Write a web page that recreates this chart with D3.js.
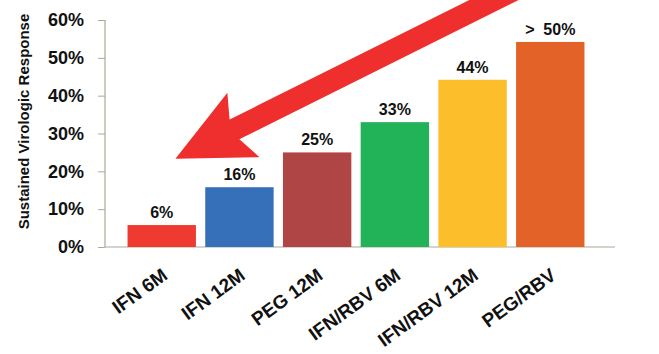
<!DOCTYPE html>
<html>
<head>
<meta charset="utf-8">
<script src="https://cdn.jsdelivr.net/npm/d3@7"></script>
<style>
  body { margin: 0; background: #fff; }
  text { font-family: "Liberation Sans", Arial, sans-serif; font-weight: bold; fill: #111; }
</style>
</head>
<body>
<div id="chart"></div>
<script>
// chart data
const categories = ["IFN 6M", "IFN 12M", "PEG 12M", "IFN/RBV 6M", "IFN/RBV 12M", "PEG/RBV"];
const values = [0.058, 0.158, 0.25, 0.33, 0.442, 0.542];
const valueLabels = ["6%", "16%", "25%", "33%", "44%", ">  50%"];
const colors = ["#ee3a2f", "#3570b9", "#b04545", "#22b257", "#fdbe2c", "#e36227"];
const yTicks = [0, 0.1, 0.2, 0.3, 0.4, 0.5, 0.6];

const w = 659, h = 354;
const svg = d3.select("#chart").append("svg").attr("width", w).attr("height", h);

const x = d3.scaleBand().domain(categories).range([112, 600])
  .paddingInner(0.12).paddingOuter(0.2);
const y = d3.scaleLinear().domain([0, 0.6]).range([247, 20]);

// axes
const yAxis = d3.axisLeft(y).tickValues(yTicks).tickFormat(d3.format(".0%")).tickSize(7).tickPadding(14);
const gy = svg.append("g").attr("transform", "translate(105,0)").call(yAxis);
gy.select(".domain").attr("stroke", "#a9a99a").attr("stroke-width", 1.2).attr("d", "M0,20V247");
gy.selectAll(".tick line").attr("stroke", "#a9a99a");
gy.selectAll(".tick text").style("font-size", "18px").attr("fill", "#111");

svg.append("line")
  .attr("x1", 105).attr("x2", 615)
  .attr("y1", y(0)).attr("y2", y(0))
  .attr("stroke", "#a9a99a").attr("stroke-width", 1.2);

svg.append("text")
  .attr("transform", `translate(29,${(y(0) + y(0.6)) / 2 - 12}) rotate(-90)`)
  .attr("text-anchor", "middle")
  .style("font-size", "15px")
  .text("Sustained Virologic Response");

// bars
svg.selectAll("rect.bar")
  .data(categories)
  .enter()
  .append("rect")
  .attr("class", "bar")
  .attr("x", d => x(d))
  .attr("y", (d, i) => y(values[i]))
  .attr("width", x.bandwidth())
  .attr("height", (d, i) => y(0) - y(values[i]))
  .attr("fill", (d, i) => colors[i]);

svg.selectAll("text.val")
  .data(categories)
  .enter()
  .append("text")
  .attr("class", "val")
  .attr("x", d => x(d) + x.bandwidth() / 2)
  .attr("y", (d, i) => y(values[i]) - 7)
  .attr("text-anchor", "middle")
  .style("font-size", "16px")
  .style("white-space", "pre")
  .text((d, i) => valueLabels[i]);

// category labels
svg.selectAll("text.cat")
  .data(categories)
  .enter()
  .append("text")
  .attr("class", "cat")
  .attr("transform", d => `translate(${x(d) + x.bandwidth() / 2 + 7},${y(0) + 31}) rotate(-36)`)
  .attr("text-anchor", "end")
  .style("font-size", "19px")
  .text(d => d);

// red arrow annotation
const tip = [x(categories[0]) + x.bandwidth() * 0.7, y(0.233)];
const ang = -26.5 * Math.PI / 180;
const ux = Math.cos(ang), uy = Math.sin(ang);   // along arrow
const nx = -uy, ny = ux;                          // normal
const headLen = 76, headHalf = 36, shaftHalf = 11, tailLen = 450;
const pt = (a, b) => [tip[0] + ux * a + nx * b, tip[1] + uy * a + ny * b];
const arrow = [
  pt(0, 0), pt(headLen, -headHalf), pt(headLen - 10, -shaftHalf),
  pt(tailLen, -shaftHalf), pt(tailLen, shaftHalf),
  pt(headLen - 10, shaftHalf), pt(headLen, headHalf)
];
svg.append("path")
  .attr("d", d3.line()(arrow) + "Z")
  .attr("fill", "#ee2f2d");
</script>
</body>
</html>
